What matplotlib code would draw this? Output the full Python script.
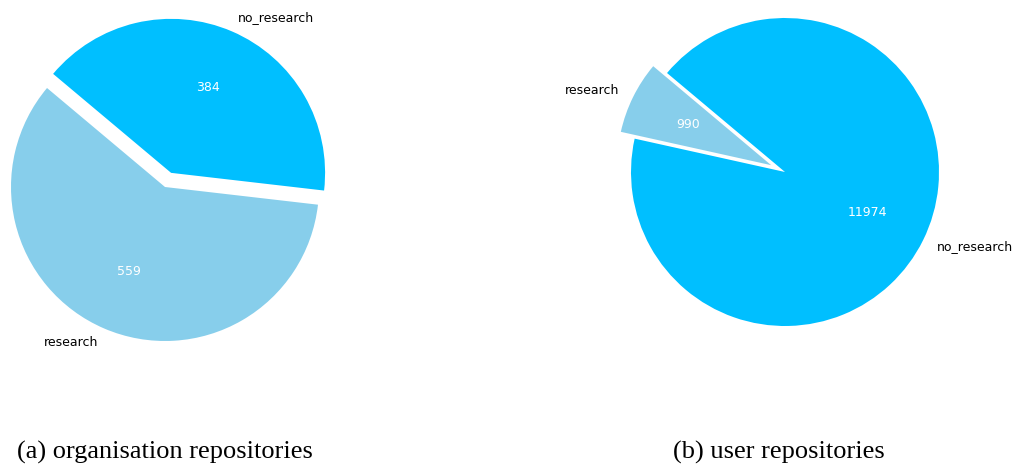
import matplotlib
matplotlib.use("Agg")
import matplotlib.pyplot as plt

# Repository counts by research flag
labels = ["research", "no_research"]
org_counts = [559, 384]
user_counts = [990, 11974]
colors = ["#87CEEB", "#00BFFF"]

org_explode = [0.0, 0.1]
user_explode = [0.1, 0.0]

captions = ["(a) organisation repositories", "(b) user repositories"]

W, H = 1017, 468
fig = plt.figure(figsize=(W / 100, H / 100), dpi=100)

R_PX = 154.0   # pie radius in pixels
LIM = 1.3


def pie_axes(cx, cy):
    size = 2 * LIM * R_PX
    left = (cx - size / 2) / W
    bottom = (H - cy - size / 2) / H
    ax = fig.add_axes([left, bottom, size / W, size / H])
    ax.set_xlim(-LIM, LIM)
    ax.set_ylim(-LIM, LIM)
    ax.set_aspect("equal")
    ax.axis("off")
    return ax


def draw(ax, counts, explode):
    total = sum(counts)
    ax.pie(counts, labels=labels, colors=colors, explode=explode,
           startangle=140, autopct=lambda p: f"{round(p * total / 100):d}",
           textprops={"fontsize": 9}, frame=True)
    ax.set_xlim(-LIM, LIM)
    ax.set_ylim(-LIM, LIM)
    ax.axis("off")
    for t in ax.texts:
        if t.get_text().isdigit():
            t.set_color("white")


ax1 = pie_axes(165, 187)
draw(ax1, org_counts, org_explode)

ax2 = pie_axes(785, 172)
draw(ax2, user_counts, user_explode)

serif = ["Liberation Serif", "DejaVu Serif"]
fig.text(165 / W, 1 - 452 / H, captions[0], ha="center", va="center",
         fontsize=19, family=serif)
fig.text(779 / W, 1 - 452 / H, captions[1], ha="center", va="center",
         fontsize=19, family=serif)

fig.savefig("out.png", dpi=100)
